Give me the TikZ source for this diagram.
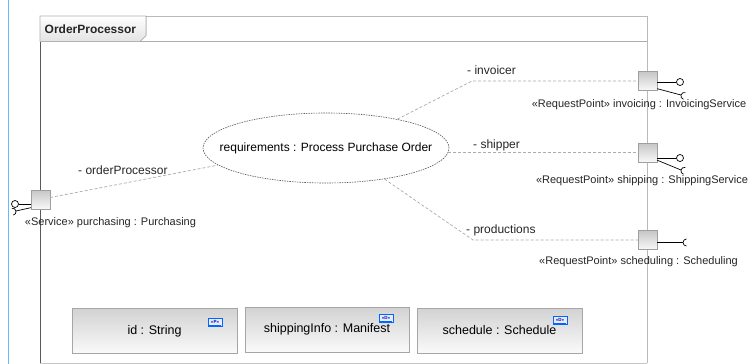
\documentclass[tikz,border=0pt]{standalone}
\usepackage{fontspec}
\setmainfont{Liberation Sans}
\usetikzlibrary{shapes.geometric,calc}
\begin{document}
\begin{tikzpicture}[x=1pt,y=-1pt,
  txt/.style={font=\fontsize{12}{13}\selectfont, inner sep=0pt, text=black!85},
  portlbl/.style={font=\fontsize{11}{12}\selectfont, inner sep=0pt, text=black!85},
  conn/.style={draw=gray!65, dash pattern=on 3pt off 2pt, line width=0.7pt},
  portbox/.style={draw=gray!75, minimum size=19pt, inner sep=0pt, top color=gray!45, bottom color=gray!5},
  ball/.style={circle, draw=black, fill=white, minimum size=7pt, inner sep=0pt, line width=0.7pt},
  iface/.style={draw=black, line width=0.7pt},
  propbox/.style={draw=gray!70, top color=gray!35, bottom color=gray!4, inner sep=0pt,
    minimum height=45pt, font=\fontsize{12.5}{13}\selectfont},
  icon/.style={draw=blue!60!cyan, fill=blue!8, minimum width=14pt, minimum height=8pt, inner sep=0pt,
    font=\fontsize{4.5}{4.5}\selectfont\bfseries, text=blue!70!black},
  usecase/.style={ellipse, draw=gray!70!black, dash pattern=on 1.5pt off 1pt, line width=0.6pt,
    minimum width=246pt, minimum height=70pt, inner sep=0pt, font=\fontsize{12}{13}\selectfont}
]
\useasboundingbox (0,0) rectangle (753,364);
\fill[white] (0,0) rectangle (753,364);
% blue margin line
\draw[blue!45!cyan!60, line width=1pt] (8,0) -- (8,364);
% frame
\draw[gray!45, line width=0.8pt] (40,363) -- (647,363);
\draw[gray!55, line width=1.6pt] (647.5,16) -- (647.5,363);
\draw[gray!55, line width=0.8pt] (40,16) -- (647,16);
\draw[gray!70!black, line width=0.9pt] (40,16) -- (40,363);
\draw[gray!65, line width=0.9pt] (40,41.5) -- (647,41.5);
\filldraw[top color=white, bottom color=gray!22, draw=gray!60, line width=0.7pt]
  (40,16) -- (146,16) -- (146,35.5) -- (140,41.5) -- (40,41.5) -- cycle;
\node[txt, anchor=west, font=\fontsize{12}{13}\selectfont\bfseries] (title) at (44.5,29) {OrderProcessor};

% use case
\node[usecase] (req) at (326,148) {\makebox[0pt]{requirements : Process Purchase Order}};

% ports
\node[portbox] (pur) at (40.5,199.5) {};
\node[portbox] (inv) at (647.5,81) {};
\node[portbox] (shp) at (647.5,152.5) {};
\node[portbox] (sch) at (647.5,240) {};

% provided / required interfaces
\node[ball] (purball) at (15,204) {};
\draw[iface] (pur.west |- purball) -- (purball);
\coordinate (pursock) at (16,211);
\draw[iface] ($(pur.south west)+(0,-1.5)$) -- (pursock);
\draw[iface] ($(pursock)+(168.7:3.5)+(258.7:3.5)$) arc[start angle=258.7, end angle=438.7, radius=3.5];

\node[ball] (invball) at (680,82) {};
\draw[iface] (inv.east |- invball) -- (invball);
\coordinate (invsock) at (681,95);
\draw[iface] ($(inv.south east)+(0,-2)$) -- (invsock);
\draw[iface] ($(invsock)+(15.6:3.5)+(105.6:3.5)$) arc[start angle=105.6, end angle=285.6, radius=3.5];

\node[ball] (shpball) at (680,158) {};
\draw[iface] (shp.east |- shpball) -- (shpball);
\coordinate (shpsock) at (681,170);
\draw[iface] ($(shp.south east)+(0,-2)$) -- (shpsock);
\draw[iface] ($(shpsock)+(14:3.5)+(104:3.5)$) arc[start angle=104, end angle=284, radius=3.5];

\coordinate (schsock) at (683,242.5);
\draw[iface] (sch.east |- schsock) -- (schsock);
\draw[iface] ($(schsock)+(0:3.5)+(90:3.5)$) arc[start angle=90, end angle=270, radius=3.5];

% connectors
\coordinate (invbend) at (472,81);
\coordinate (schbend) at (473,240);
\draw[conn] (req.22) -- (invbend) -- (inv.west);
\draw[conn] (req.-2) -- (req.-2 -| shp.west);
\draw[conn] (req.-28) -- (schbend) -- (sch.west);
\draw[conn] (pur.east |- 0,197.5) -- (req.189);

% connector labels
\node[txt, anchor=west] (linv) at (467,70) {- invoicer};
\node[txt, anchor=west] (lshp) at (473,145) {- shipper};
\node[txt, anchor=west] (lsch) at (466,230) {- productions};
\node[txt, anchor=west] (lpur) at (78,170) {- orderProcessor};

% port labels
\node[portlbl] (lpurp) at (110.5,223) {«Service» purchasing : Purchasing};
\node[portlbl] (linvp) at (639,105) {«RequestPoint» invoicing : InvoicingService};
\node[portlbl] (lshpp) at (642,181) {«RequestPoint» shipping : ShippingService};
\node[portlbl] (lschp) at (638.5,262) {«RequestPoint» scheduling : Scheduling};

% properties
\node[propbox, minimum width=165pt] (pid) at (154.5,331) {\raisebox{-3pt}{id : String}};
\node[propbox, minimum width=164pt] (pship) at (327,329.5) {\raisebox{-3pt}{shippingInfo : Manifest}};
\node[propbox, minimum width=165pt] (psched) at (499.5,330.5) {\raisebox{-3pt}{schedule : Schedule}};
\node[icon] (iid) at (215,322) {\raisebox{1pt}{«P»}};
\node[icon] (iship) at (386,318) {\raisebox{1pt}{«D»}};
\node[icon] (isched) at (560,320.5) {\raisebox{1pt}{«D»}};
\foreach \i in {iid,iship,isched}
  \draw[blue!60!cyan, line width=1pt] ($(\i.south west)+(1,-1)$) -- ($(\i.south east)+(-1,-1)$);
\end{tikzpicture}
\end{document}
